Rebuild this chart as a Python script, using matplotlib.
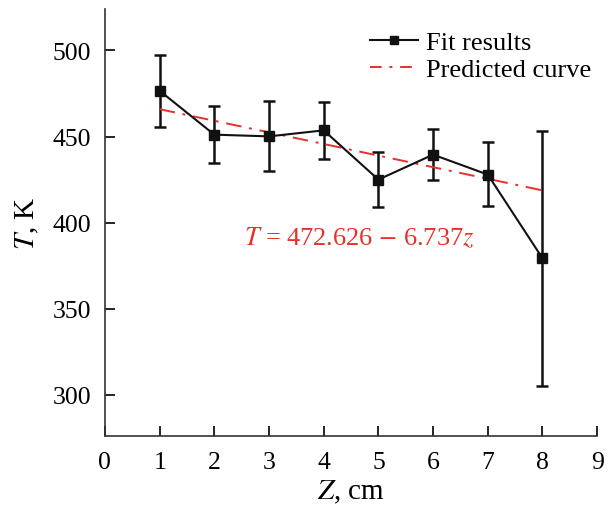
import matplotlib
matplotlib.use('Agg')
import matplotlib.pyplot as plt
from matplotlib.lines import Line2D
import numpy as np

# 数据
z = [1, 2, 3, 4, 5, 6, 7, 8]
T_fit = [476.6, 451.1, 450.1, 453.6, 425.0, 439.5, 427.9, 379.3]
T_err_up = [497.5, 468.0, 470.4, 470.3, 441.0, 454.2, 446.7, 453.0]
T_err_low = [455.8, 434.7, 429.9, 436.8, 409.0, 425.0, 409.8, 305.4]
a, b = 472.626, -6.737

plt.rcParams['font.family'] = ['Liberation Serif', 'DejaVu Serif']
plt.rcParams['mathtext.fontset'] = 'stix'

fig = plt.figure(figsize=(6.1, 5.06), dpi=100)
ax = fig.add_axes([0.172, 0.136, 0.807, 0.844])

black = '#111111'
red = '#e8302a'

T_fit = np.array(T_fit)
yerr = [T_fit - np.array(T_err_low), np.array(T_err_up) - T_fit]
ax.errorbar(z, T_fit, yerr=yerr, color=black, marker='s', markersize=7,
            linewidth=1.5, elinewidth=1.8, capsize=4, capthick=1.8)

z_line = np.array([z[0], z[-1]])
ax.plot(z_line, a + b * z_line, color=red, linestyle=(0, (8, 4, 1.5, 4)),
        linewidth=1.4)

ax.text(4.65, 391.5, r'$T$ = 472.626 $-$ 6.737$z$', color=red,
        fontsize=19, ha='center', va='center')

ax.set_xlim(0, 9)
ax.set_ylim(276, 524)
ax.set_xticks(range(0, 10))
ax.set_yticks([300, 350, 400, 450, 500])
ax.tick_params(direction='in', length=7, width=1.2, labelsize=18.5)
ax.tick_params(axis='x', pad=11)
ax.tick_params(axis='y', pad=10)
for s in ['top', 'right']:
    ax.spines[s].set_visible(False)
for s in ['left', 'bottom']:
    ax.spines[s].set_linewidth(1.2)
    ax.spines[s].set_color('#333333')

ax.set_xlabel(r'$Z$, cm', fontsize=21, labelpad=3)
ax.set_ylabel(r'$T$, K', fontsize=21, labelpad=8)

handles = [Line2D([], [], color=black, marker='s', markersize=6, linewidth=1.5),
           Line2D([], [], color=red, linestyle=(0, (6, 4, 1.5, 4)), linewidth=1.4)]
ax.legend(handles, ['Fit results', 'Predicted curve'], loc='upper right',
          frameon=False, fontsize=19, handlelength=1.85, handletextpad=0.3,
          labelspacing=0.15, borderaxespad=0.0, bbox_to_anchor=(1.01, 0.975))

plt.savefig('out.png', dpi=100)
